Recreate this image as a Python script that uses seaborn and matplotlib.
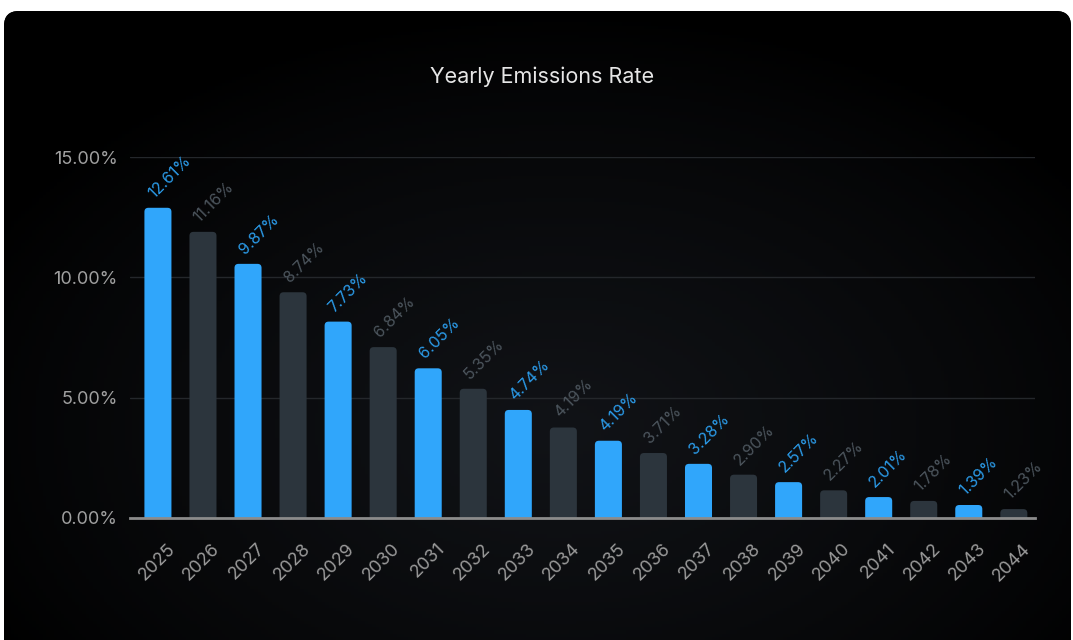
import numpy as np
import pandas as pd
import matplotlib
matplotlib.use('Agg')
import matplotlib.pyplot as plt
import matplotlib.transforms as mtransforms
from matplotlib.patches import FancyBboxPatch
import seaborn as sns

# Data
years = [str(y) for y in range(2025, 2045)]
bar_values = [12.89, 11.89, 10.56, 9.38, 8.16, 7.10, 6.22, 5.37, 4.49, 3.76,
              3.21, 2.70, 2.25, 1.80, 1.49, 1.15, 0.87, 0.71, 0.54, 0.37]
value_labels = ['12.61%', '11.16%', '9.87%', '8.74%', '7.73%', '6.84%', '6.05%', '5.35%',
                '4.74%', '4.19%', '4.19%', '3.71%', '3.28%', '2.90%', '2.57%', '2.27%',
                '2.01%', '1.78%', '1.39%', '1.23%']
y_ticks = [0, 5, 10, 15]
y_tick_labels = ['0.00%', '5.00%', '10.00%', '15.00%']

BLUE = '#30a6fb'
DARK = '#2c353d'
BLUE_TXT = '#2b9be9'
DARK_TXT = '#4c555d'
bar_colors = [BLUE if i % 2 == 0 else DARK for i in range(len(years))]
text_colors = [BLUE_TXT if i % 2 == 0 else DARK_TXT for i in range(len(years))]

df = pd.DataFrame({'year': years, 'value': bar_values})

sns.set_theme(style='dark')
plt.rcParams['font.family'] = ['Inter', 'DejaVu Sans']

fig = plt.figure(figsize=(10.73, 6.4), dpi=100)
fig.patch.set_facecolor('white')

# ---- card background with a soft radial glow ----
bg = fig.add_axes([0, 0, 1, 1])
bg.set_xlim(0, 1073)
bg.set_ylim(640, 0)
bg.axis('off')
card = FancyBboxPatch((4, 11), 1067, 700, boxstyle='round,pad=0,rounding_size=15',
                      transform=bg.transData, facecolor='#000000', edgecolor='none')
bg.add_patch(card)
gx, gy = np.meshgrid(np.linspace(0, 1073, 300), np.linspace(0, 640, 200))
r = np.sqrt(((gx - 560) / 650) ** 2 + ((gy - 430) / 420) ** 2)
glow = np.clip(1 - r, 0, 1) ** 0.8
img = np.zeros((200, 300, 3))
base = np.array([0, 0, 0]) / 255
top = np.array([17, 19, 23]) / 255
for c in range(3):
    img[..., c] = base[c] + (top[c] - base[c]) * glow
im = bg.imshow(img, extent=(0, 1073, 640, 0), aspect='auto', zorder=1)
im.set_clip_path(card)

# ---- chart ----
ax = fig.add_axes([130 / 1073, 122 / 640, 905 / 1073, 361 / 640])
ax.set_facecolor('none')
sns.barplot(data=df, x='year', y='value', hue='year', palette=bar_colors,
            saturation=1, legend=False, width=0.6, ax=ax, zorder=3)

# rounded bar tops
px_x = 905 / (19.47 + 0.62)
px_y = 361 / 15
for patch in list(ax.patches):
    x0, w, h = patch.get_x(), patch.get_width(), patch.get_height()
    fc = patch.get_facecolor()
    patch.remove()
    rb = FancyBboxPatch((x0, -0.4), w, h + 0.4,
                        boxstyle='round,pad=0,rounding_size=%f' % (4 / px_x),
                        mutation_aspect=px_x / px_y, facecolor=fc, edgecolor='none',
                        zorder=3)
    ax.add_patch(rb)

ax.set_xlim(-0.62, 19.47)
ax.set_ylim(0, 15)

for spine in ['top', 'right', 'left']:
    ax.spines[spine].set_visible(False)
ax.spines['bottom'].set_color('#8c8c8c')
ax.spines['bottom'].set_linewidth(2)
ax.spines['bottom'].set_zorder(5)

ax.set_yticks(y_ticks)
ax.set_yticklabels(y_tick_labels)
ax.tick_params(axis='y', colors='#a0a0a0', labelsize=13, length=0, pad=9)
for yv in y_ticks[1:]:
    ax.axhline(yv, color='#24272b', linewidth=1, zorder=1)

ax.tick_params(axis='x', colors='#9a9a9a', labelsize=13, length=0, pad=16)
offset = mtransforms.ScaledTranslation(6 / 72, 0, fig.dpi_scale_trans)
for lbl in ax.get_xticklabels():
    lbl.set_rotation(45)
    lbl.set_ha('right')
    lbl.set_va('top')
    lbl.set_rotation_mode('anchor')
    lbl.set_transform(lbl.get_transform() + offset)

ax.set_xlabel('')
ax.set_ylabel('')
ax.grid(False)

# value labels
for i, (v, t) in enumerate(zip(bar_values, value_labels)):
    ax.annotate(t, (i, v), xytext=(-1, 5), textcoords='offset points',
                rotation=45, rotation_mode='anchor', ha='left', va='bottom',
                color=text_colors[i], fontsize=11.5, zorder=6, clip_on=False)

fig.text(542 / 1073, 1 - 77 / 640, 'Yearly Emissions Rate', color='#e6e6e6',
         fontsize=15.5, ha='center', va='center')

fig.savefig('out.png', dpi=100, facecolor=fig.get_facecolor())
